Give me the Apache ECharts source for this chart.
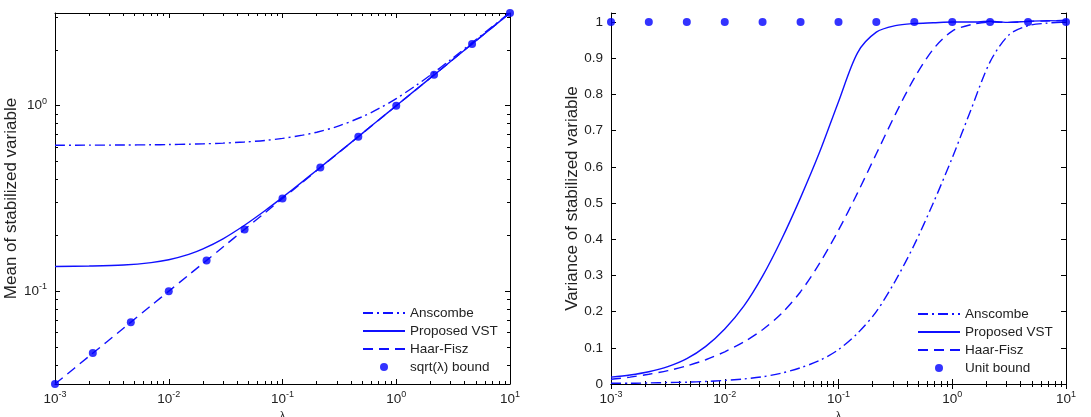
<!DOCTYPE html>
<html>
<head>
<meta charset="utf-8">
<title>VST mean / variance</title>
<script src="https://cdn.jsdelivr.net/npm/echarts@6/dist/echarts.min.js"></script>
<style>
  html, body { margin: 0; padding: 0; background: #fff; }
  #container { width: 1091px; height: 417px; }
</style>
</head>
<body>
<div id="container"></div>
<script>
// ---- data ----
// left panel: mean of stabilized variable
var lamMean = [0.001, 0.002, 0.004, 0.007, 0.01, 0.015, 0.02, 0.03, 0.046, 0.07, 0.1, 0.15, 0.2, 0.3, 0.5, 0.7, 1, 1.5, 2, 3, 5, 7, 10];
var anscombeMean = [0.6126, 0.6131, 0.6142, 0.6159, 0.6176, 0.6204, 0.6232, 0.6287, 0.6375, 0.650, 0.667, 0.694, 0.720, 0.772, 0.871, 0.964, 1.093, 1.289, 1.464, 1.769, 2.268, 2.672, 3.184];
var proposedMean = [0.136, 0.1368, 0.1386, 0.1427, 0.1479, 0.1581, 0.1692, 0.1918, 0.2262, 0.2717, 0.3208, 0.3901, 0.4492, 0.5489, 0.7077, 0.838, 1.0, 1.225, 1.414, 1.732, 2.236, 2.646, 3.162];
var haarMean = [0.0316, 0.0447, 0.0632, 0.0837, 0.1, 0.1225, 0.1414, 0.1732, 0.2145, 0.2646, 0.3162, 0.3873, 0.4472, 0.5477, 0.7071, 0.8367, 1.0, 1.2247, 1.4142, 1.7321, 2.2361, 2.6458, 3.1623];

// bound markers (both panels)
var dotLam = [0.001, 0.00215, 0.00464, 0.01, 0.0215, 0.0464, 0.1, 0.215, 0.464, 1, 2.15, 4.64, 10];
var sqrtBound = [0.0316, 0.0464, 0.0681, 0.1, 0.1467, 0.2154, 0.3162, 0.4642, 0.6813, 1, 1.4678, 2.1544, 3.1623];
var unitBound = [1, 1, 1, 1, 1, 1, 1, 1, 1, 1, 1, 1, 1];

// right panel: variance of stabilized variable
var lamVar = [0.001, 0.00147, 0.00215, 0.00316, 0.00464, 0.00681, 0.01, 0.0147, 0.0215, 0.0316, 0.0464, 0.0681, 0.1, 0.147, 0.215, 0.316, 0.464, 0.681, 1, 1.47, 2.15, 3.16, 4.64, 6.81, 10];
var anscombeVar = [0.002, 0.002, 0.003, 0.004, 0.005, 0.007, 0.010, 0.014, 0.020, 0.030, 0.045, 0.065, 0.095, 0.140, 0.200, 0.285, 0.385, 0.500, 0.625, 0.760, 0.890, 0.965, 0.990, 0.997, 1.0];
var proposedVar = [0.019, 0.025, 0.034, 0.048, 0.070, 0.104, 0.152, 0.215, 0.298, 0.400, 0.515, 0.640, 0.780, 0.915, 0.972, 0.990, 0.996, 0.998, 1.0, 1.0, 1.002, 0.999, 1.002, 1.004, 1.003];
var haarVar = [0.013, 0.019, 0.027, 0.037, 0.050, 0.067, 0.089, 0.116, 0.150, 0.195, 0.255, 0.333, 0.425, 0.528, 0.636, 0.745, 0.845, 0.925, 0.975, 0.993, 1.0, 0.999, 1.002, 1.003, 1.005];

var BLUE = '#1010ff';
var FONT = 'Liberation Sans, Arial, sans-serif';

function pairs(xs, ys) {
  return xs.map(function (x, i) { return [x, ys[i]]; });
}

// 10^k labels with a raised exponent
function powLabel(v) {
  var e = Math.log10(v);
  var k = Math.round(e);
  if (Math.abs(e - k) > 1e-6) return '';
  return '{b|10}{s|' + k + '}';
}
var powRich = {
  b: { fontSize: 13.5, fontFamily: FONT, color: '#222', lineHeight: 18 },
  s: { fontSize: 9, fontFamily: FONT, color: '#222', verticalAlign: 'top' }
};

function logX(grid, pos) {
  return {
    gridIndex: grid,
    type: 'log',
    min: 0.001,
    max: 10,
    splitNumber: 4,
    position: pos,
    axisLine: { show: true, lineStyle: { color: '#000', width: 1 } },
    axisTick: { show: true, inside: true, length: 5, lineStyle: { color: '#000' } },
    minorTick: { show: true, splitNumber: 9, length: 3, lineStyle: { color: '#000' } },
    splitLine: { show: false },
    axisLabel: pos === 'bottom'
      ? { show: true, formatter: powLabel, rich: powRich, margin: 6 }
      : { show: false },
    name: pos === 'bottom' ? 'λ' : '',
    nameLocation: 'middle',
    nameGap: 24,
    nameTextStyle: { fontSize: 11, fontFamily: FONT, color: '#222' }
  };
}

function lineSeries(name, xs, ys, axis, dash) {
  return {
    name: name,
    type: 'line',
    xAxisIndex: axis,
    yAxisIndex: axis,
    data: pairs(xs, ys),
    symbol: 'none',
    smooth: 0.3,
    lineStyle: { color: BLUE, width: 1.4, type: dash },
    itemStyle: { color: BLUE },
    z: 3
  };
}

function dotSeries(name, xs, ys, axis) {
  return {
    name: name,
    type: 'scatter',
    xAxisIndex: axis,
    yAxisIndex: axis,
    data: pairs(xs, ys),
    symbol: 'circle',
    symbolSize: 8,
    itemStyle: { color: '#0000ff' },
    clip: false,
    z: 4
  };
}

// legend entries: line samples only, no marker on the line ones
function legendItems(dotName) {
  var noMark = { opacity: 0 };
  return [
    { name: 'Anscombe', itemStyle: noMark },
    { name: 'Proposed VST', itemStyle: noMark },
    { name: 'Haar-Fisz', itemStyle: noMark },
    { name: dotName }
  ];
}

var DASHDOT = [10, 4, 2, 4];
var DASHED = [10, 6];

var myChart = echarts.init(document.getElementById('container'));

myChart.setOption({
  animation: false,
  grid: [
    // outerBoundsMode none: keep the boxes where they are, labels may run off the edge
    { left: 55, top: 13, width: 455, height: 371, show: false, outerBoundsMode: 'none' },
    { left: 611, top: 13, width: 455, height: 371, show: false, outerBoundsMode: 'none' }
  ],
  legend: [
    {
      data: legendItems('sqrt(λ) bound'),
      orient: 'vertical', left: 357, top: 301,
      itemWidth: 42, itemHeight: 8, itemGap: 4,
      selectedMode: false,
      textStyle: { fontSize: 13.5, fontFamily: FONT, color: '#222', lineHeight: 14 }
    },
    {
      data: legendItems('Unit bound'),
      orient: 'vertical', left: 912, top: 302,
      itemWidth: 42, itemHeight: 8, itemGap: 4,
      selectedMode: false,
      textStyle: { fontSize: 13.5, fontFamily: FONT, color: '#222', lineHeight: 14 }
    }
  ],
  xAxis: [logX(0, 'bottom'), logX(0, 'top'), logX(1, 'bottom'), logX(1, 'top')],
  yAxis: [
    {
      gridIndex: 0, type: 'log', min: 0.0316227766, max: 3.16227766, splitNumber: 2,
      position: 'left',
      axisLine: { show: true, lineStyle: { color: '#000' } },
      axisTick: { show: true, inside: true, length: 5, lineStyle: { color: '#000' } },
      minorTick: { show: true, splitNumber: 9, length: 3, lineStyle: { color: '#000' } },
      splitLine: { show: false },
      axisLabel: { formatter: powLabel, rich: powRich, margin: 8 },
      name: 'Mean of stabilized variable', nameLocation: 'middle', nameRotate: 90, nameGap: 30,
      nameTextStyle: { fontSize: 17, fontFamily: FONT, color: '#222' }
    },
    {
      gridIndex: 0, type: 'log', min: 0.0316227766, max: 3.16227766, splitNumber: 2,
      position: 'right',
      axisLine: { show: true, lineStyle: { color: '#000' } },
      axisTick: { show: true, inside: true, length: 5, lineStyle: { color: '#000' } },
      minorTick: { show: true, splitNumber: 9, length: 3, lineStyle: { color: '#000' } },
      splitLine: { show: false },
      axisLabel: { show: false }
    },
    {
      gridIndex: 1, type: 'value', min: 0, max: 1.025, interval: 0.1,
      position: 'left',
      axisLine: { show: true, lineStyle: { color: '#000' } },
      axisTick: { show: true, inside: true, length: 5, lineStyle: { color: '#000' } },
      splitLine: { show: false },
      axisLabel: {
        margin: 8, fontSize: 13.5, fontFamily: FONT, color: '#222',
        formatter: function (v) { return v > 1.001 ? '' : String(Math.round(v * 10) / 10); }
      },
      name: 'Variance of stabilized variable', nameLocation: 'middle', nameRotate: 90, nameGap: 26,
      nameTextStyle: { fontSize: 17, fontFamily: FONT, color: '#222' }
    },
    {
      gridIndex: 1, type: 'value', min: 0, max: 1.025, interval: 0.1,
      position: 'right',
      axisLine: { show: true, lineStyle: { color: '#000' } },
      axisTick: { show: true, inside: true, length: 5, lineStyle: { color: '#000' } },
      splitLine: { show: false },
      axisLabel: { show: false }
    }
  ],
  series: [
    // left panel
    lineSeries('Anscombe', lamMean, anscombeMean, 0, DASHDOT),
    lineSeries('Proposed VST', lamMean, proposedMean, 0, 'solid'),
    lineSeries('Haar-Fisz', lamMean, haarMean, 0, DASHED),
    dotSeries('sqrt(λ) bound', dotLam, sqrtBound, 0),
    // right panel (axis index 2 = bottom x / left y of second grid)
    lineSeries('Anscombe', lamVar, anscombeVar, 2, DASHDOT),
    lineSeries('Proposed VST', lamVar, proposedVar, 2, 'solid'),
    lineSeries('Haar-Fisz', lamVar, haarVar, 2, DASHED),
    dotSeries('Unit bound', dotLam, unitBound, 2)
  ]
});
</script>
</body>
</html>
